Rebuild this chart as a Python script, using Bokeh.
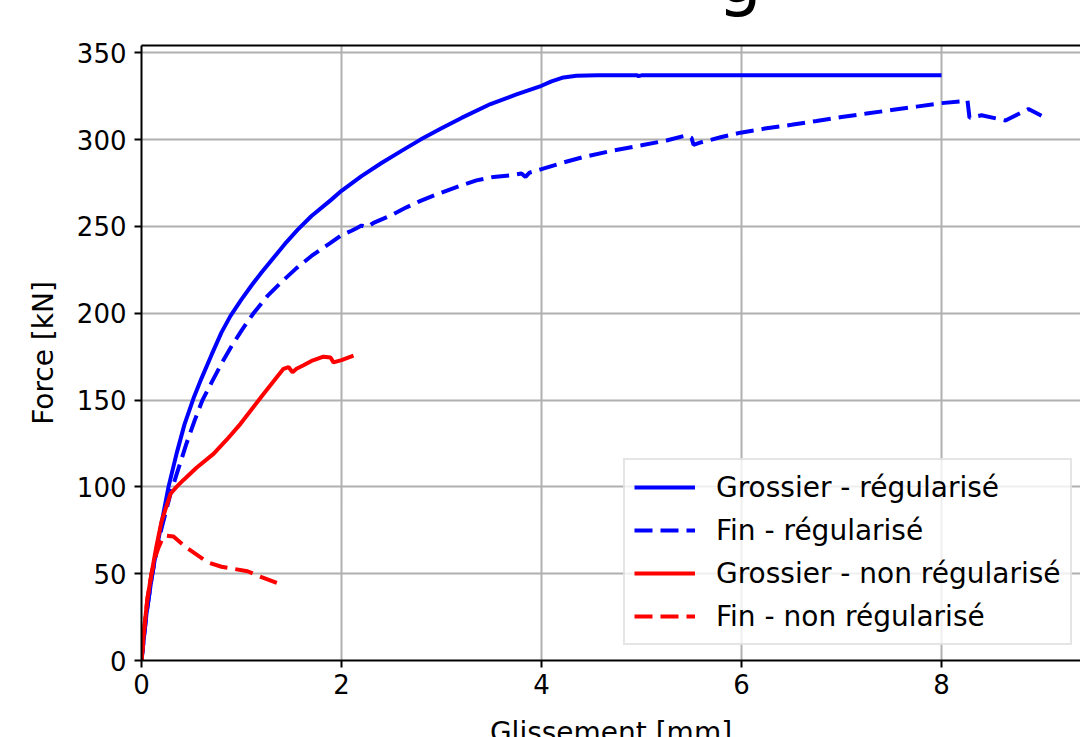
from bokeh.plotting import figure
from bokeh.models import Range1d, FixedTicker, LinearAxis, Legend, LegendItem, Title
from bokeh.embed import file_html
from bokeh.resources import INLINE

# Data
gros_reg_x = [0, 0.05, 0.1, 0.15, 0.2, 0.27, 0.35, 0.43, 0.52, 0.6, 0.7, 0.8, 0.89, 1.0, 1.1, 1.2, 1.35, 1.45, 1.56, 1.7, 1.89, 2.0, 2.2, 2.4, 2.6, 2.79, 3.0, 3.2, 3.49, 3.75, 4.0, 4.1, 4.22, 4.35, 4.56, 4.95, 4.97, 5.0, 8.0]
gros_reg_y = [0, 27, 47, 64, 79, 100, 119, 136, 151, 162.5, 176, 189, 198.5, 208, 216, 223.5, 234, 241, 248, 256, 265, 270.5, 279, 286.5, 293.5, 300, 306.5, 312.5, 320.5, 326, 331, 333.5, 335.8, 336.8, 337.1, 337.1, 336.6, 337.0, 337.0]

fin_reg_x = [0, 0.05, 0.1, 0.15, 0.2, 0.29, 0.35, 0.45, 0.53, 0.61, 0.7, 0.8, 0.9, 1.0, 1.12, 1.26, 1.4, 1.55, 1.7, 1.89, 2.0, 2.1, 2.15, 2.2, 2.25, 2.32, 2.5, 2.65, 2.79, 3.0, 3.19, 3.35, 3.52, 3.7, 3.8, 3.84, 3.88, 4.0, 4.2, 4.42, 4.7, 5.0, 5.25, 5.45, 5.5, 5.52, 5.6, 5.8, 5.99, 6.25, 6.5, 6.75, 7.0, 7.25, 7.5, 7.75, 8.0, 8.26, 8.28, 8.4, 8.64, 8.87, 9.0]
fin_reg_y = [0, 27, 47, 63, 76, 96, 107, 125, 138, 150, 160, 171, 181, 190, 200, 210, 218, 226, 233, 240.5, 245, 247.5, 249, 250.5, 249.5, 252, 256.5, 261, 264.7, 269.5, 273.5, 276.5, 278.5, 279.5, 280.5, 278.5, 281, 283, 286.5, 290, 293.5, 296.7, 299.5, 302.5, 301, 297, 298.5, 301.5, 304, 306.5, 308.5, 310.7, 313, 315, 317, 319, 321, 322.4, 312.6, 314, 311, 317.6, 313.7]

gros_nonreg_x = [0, 0.03, 0.06, 0.1, 0.15, 0.2, 0.29, 0.35, 0.42, 0.55, 0.72, 0.85, 0.99, 1.22, 1.42, 1.47, 1.51, 1.55, 1.62, 1.7, 1.82, 1.89, 1.92, 2.0, 2.12]
gros_nonreg_y = [0, 20, 36, 50, 66, 80, 96, 100, 104, 111, 119, 127, 136.3, 153.5, 168, 169, 166, 168, 170, 172.5, 175, 174.5, 171.7, 173, 175.6]

fin_nonreg_x = [0, 0.03, 0.06, 0.1, 0.14, 0.17, 0.2, 0.24, 0.32, 0.45, 0.66, 0.8, 0.92, 1.06, 1.2, 1.41]
fin_nonreg_y = [0, 20, 36, 50, 60, 65, 69, 72, 71.4, 65, 56.6, 54, 52.8, 51.4, 48, 43.4]

x_ticks = [0, 2, 4, 6, 8]
y_ticks = [0, 50, 100, 150, 200, 250, 300, 350]
labels = ["Grossier - régularisé", "Fin - régularisé", "Grossier - non régularisé", "Fin - non régularisé"]

FONT = "DejaVu Sans"
SHIFT = 100  # canvas is moved up so that only the descender of the title shows, as in the reference

p = figure(width=1080, height=870, output_backend="svg", toolbar_location=None,
           x_range=Range1d(0, 9.39), y_range=Range1d(0, 354.2),
           min_border_left=141, min_border_right=0, min_border_top=45 + SHIFT, min_border_bottom=110)
p.outline_line_color = None
p.background_fill_color = "white"
p.border_fill_color = "white"

for ax, ticks in ((p.xaxis[0], x_ticks), (p.yaxis[0], y_ticks)):
    ax.ticker = FixedTicker(ticks=ticks)
    ax.axis_line_width = 2
    ax.axis_line_color = "black"
    ax.major_tick_out = 7
    ax.major_tick_in = 0
    ax.major_tick_line_width = 2
    ax.minor_tick_line_color = None
    ax.major_label_text_font = FONT
    ax.major_label_text_font_size = "26px"
    ax.major_label_text_color = "black"
    ax.axis_label_text_font = FONT
    ax.axis_label_text_font_size = "28px"
    ax.axis_label_text_font_style = "normal"
    ax.axis_label_text_color = "black"

p.xaxis.major_label_standoff = 6
p.yaxis.major_label_standoff = 8
p.yaxis.axis_label = "Force [kN]"
p.yaxis.axis_label_standoff = 14
p.xaxis.axis_label = "Glissement [mm]"
p.xaxis.axis_label_standoff = 19

top = LinearAxis(ticker=FixedTicker(ticks=[]), axis_line_width=2, axis_line_color="black",
                 major_tick_line_color=None, minor_tick_line_color=None,
                 major_tick_out=0, major_tick_in=0, major_label_standoff=0,
                 major_label_text_font_size="0px")
p.add_layout(top, "above")

title = Title(text="g", align="left", offset=576, standoff=52,
              text_font=FONT, text_font_size="70px", text_font_style="normal", text_color="black")
p.add_layout(title, "above")

p.xgrid.ticker = FixedTicker(ticks=x_ticks)
p.ygrid.ticker = FixedTicker(ticks=y_ticks)
for g in (p.xgrid, p.ygrid):
    g.grid_line_color = "#b0b0b0"
    g.grid_line_width = 2

LW = 4
DASH = "18 8"
r1 = p.line(gros_reg_x, gros_reg_y, line_color="blue", line_width=LW)
r2 = p.line(fin_reg_x, fin_reg_y, line_color="blue", line_width=LW, line_dash=DASH)
r3 = p.line(gros_nonreg_x, gros_nonreg_y, line_color="red", line_width=LW)
r4 = p.line(fin_nonreg_x, fin_nonreg_y, line_color="red", line_width=LW, line_dash=DASH)

legend = Legend(items=[LegendItem(label=labels[i], renderers=[r]) for i, r in enumerate((r1, r2, r3, r4))],
                location=(482, 15), orientation="vertical",
                label_text_font=FONT, label_text_font_size="28px", label_text_color="black",
                glyph_width=61, glyph_height=36, label_height=36, spacing=7,
                padding=9, margin=0, label_standoff=21,
                border_line_color="#cccccc", border_line_width=2,
                background_fill_color="white", background_fill_alpha=0.8)
p.add_layout(legend, "center")

html = file_html(p, INLINE)
style = ("<style>html { margin: 0 !important; padding: 0 !important; overflow: hidden !important; }"
         " body { margin: 0 !important; padding: 0 !important; overflow: visible !important;"
         " height: auto !important; position: relative !important; top: -%dpx !important; }</style>" % SHIFT)
html = html.replace("</head>", style + "</head>", 1)
open("out.html", "w").write(html)
